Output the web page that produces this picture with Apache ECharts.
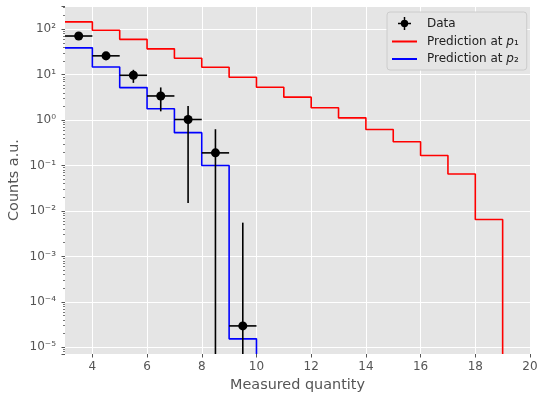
<!DOCTYPE html>
<html>
<head>
<meta charset="utf-8">
<script src="https://cdn.jsdelivr.net/npm/echarts@6/dist/echarts.min.js"></script>
<style>
html, body { margin: 0; padding: 0; background: #fff; }
#chart { width: 539px; height: 393px; }
</style>
</head>
<body>
<div id="chart"></div>
<script>
// bin left edges, histogram predictions (0 = empty bin, drops off the log axis)
const binEdges = [3, 4, 5, 6, 7, 8, 9, 10, 11, 12, 13, 14, 15, 16, 17, 18, 19];
const predP1 = [145, 95, 60, 37, 23, 14.6, 8.8, 5.3, 3.2, 1.87, 1.12, 0.62, 0.333, 0.166, 0.065, 0.0065, 0];
const predP2 = [39, 14.8, 5.2, 1.78, 0.53, 0.1, 1.53e-5, 0];

// measured data points with symmetric errors
const dataX = [3.5, 4.5, 5.5, 6.5, 7.5, 8.5, 9.5];
const dataY = [71, 26, 9.7, 3.4, 1.03, 0.19, 2.95e-5];
const dataErr = [8.4, 5.1, 3.1, 1.84, 1.015, 0.44, 0.0055];

const xTicks = [4, 6, 8, 10, 12, 14, 16, 18, 20];

const yMin = 7.1e-6, yMax = 325;
const FONT = 'DejaVu Sans';

const sup = { '0': '⁰', '1': '¹', '2': '²', '3': '³', '4': '⁴', '5': '⁵', '6': '⁶', '7': '⁷', '8': '⁸', '9': '⁹', '-': '⁻' };
function powLabel(v) {
  const e = Math.log10(v);
  if (Math.abs(e - Math.round(e)) > 1e-6) return '';
  return '10' + String(Math.round(e)).split('').map(c => sup[c]).join('');
}

function stepPoints(vals) {
  return vals.map((v, i) => [binEdges[i], v > 0 ? v : yMin]);
}

const errData = dataX.map((x, i) => [x, dataY[i], dataY[i] - dataErr[i], dataY[i] + dataErr[i]]);

const chart = echarts.init(document.getElementById('chart'));

const option = {
  animation: false,
  textStyle: { fontFamily: FONT },
  grid: {
    left: 65, right: 9, top: 6, bottom: 39,
    outerBoundsMode: 'none',
    show: true, backgroundColor: '#E5E5E5', borderWidth: 0
  },
  legend: {
    orient: 'vertical',
    left: 387, top: 12,
    padding: [5, 8, 5, 5],
    itemGap: 5.5,
    itemWidth: 25, itemHeight: 13,
    backgroundColor: '#E5E5E5',
    borderColor: '#CCCCCC', borderWidth: 1, borderRadius: 3,
    textStyle: {
      fontFamily: FONT, fontSize: 12, color: '#222', padding: [0, 0, 0, 5],
      rich: { i: { fontFamily: FONT, fontSize: 12, fontStyle: 'italic', color: '#222' } }
    },
    formatter: function (name) {
      if (name === 'Data') return name;
      return 'Prediction at {i|p}' + (name.endsWith('1') ? '₁' : '₂');
    },
    data: [
      { name: 'Data', icon: 'path://M0,6.2H14V7.8H0Z M6.2,0H7.8V14H6.2Z M11,7A4,4,0,1,1,3,7A4,4,0,1,1,11,7Z' },
      { name: 'Prediction at p1', icon: 'path://M0,0H25V2H0Z' },
      { name: 'Prediction at p2', icon: 'path://M0,0H25V2H0Z' }
    ]
  },
  xAxis: {
    type: 'value',
    min: 3, max: 20, interval: 1,
    name: 'Measured quantity',
    nameLocation: 'middle', nameGap: 22,
    nameTextStyle: { fontFamily: FONT, fontSize: 14.4, color: '#555' },
    axisLine: { show: false },
    axisTick: { show: true, inside: false, length: 3.5, customValues: xTicks, lineStyle: { color: '#555', width: 1 } },
    axisLabel: { fontFamily: FONT, fontSize: 12, color: '#555', margin: 7, customValues: xTicks },
    splitLine: { show: true, lineStyle: { color: '#fff', width: 1 } }
  },
  yAxis: {
    type: 'log', logBase: 10,
    min: yMin, max: yMax,
    name: 'Counts a.u.',
    nameLocation: 'middle', nameGap: 44, nameMoveOverlap: false,
    nameTextStyle: { fontFamily: FONT, fontSize: 14.4, color: '#555' },
    axisLine: { show: false },
    axisTick: { show: true, inside: false, length: 3.5, lineStyle: { color: '#555', width: 1 } },
    minorTick: { show: true, splitNumber: 9, length: 2, lineStyle: { color: '#777', width: 1 } },
    axisLabel: { fontFamily: FONT, fontSize: 12, color: '#555', margin: 9, formatter: powLabel, showMinLabel: false, showMaxLabel: false },
    splitLine: { show: true, lineStyle: { color: '#fff', width: 1 } }
  },
  series: [
    {
      name: 'Data', type: 'custom',
      itemStyle: { color: '#000' },
      data: errData,
      z: 3,
      renderItem: function (params, api) {
        const x = api.value(0), y = api.value(1), lo = api.value(2), hi = api.value(3);
        const pLo = api.coord([x, lo > 0 ? lo : yMin]);
        const pHi = api.coord([x, hi]);
        const pL = api.coord([x - 0.5, y]);
        const pR = api.coord([x + 0.5, y]);
        const st = { stroke: '#000', lineWidth: 1.6 };
        return {
          type: 'group',
          children: [
            { type: 'line', shape: { x1: pLo[0], y1: pLo[1], x2: pHi[0], y2: pHi[1] }, style: st },
            { type: 'line', shape: { x1: pL[0], y1: pL[1], x2: pR[0], y2: pR[1] }, style: st }
          ]
        };
      }
    },
    {
      name: 'Data', type: 'scatter',
      data: dataX.map((x, i) => [x, dataY[i]]),
      symbol: 'circle', symbolSize: 9,
      itemStyle: { color: '#000', opacity: 1 },
      z: 4
    },
    {
      name: 'Prediction at p1', type: 'line', step: 'end',
      data: stepPoints(predP1),
      showSymbol: false, symbol: 'none',
      lineStyle: { color: '#FF0000', width: 1.6 },
      itemStyle: { color: '#FF0000' },
      z: 2
    },
    {
      name: 'Prediction at p2', type: 'line', step: 'end',
      data: stepPoints(predP2),
      showSymbol: false, symbol: 'none',
      lineStyle: { color: '#0000FF', width: 1.6 },
      itemStyle: { color: '#0000FF' },
      z: 2
    }
  ]
};

chart.setOption(option);
</script>
</body>
</html>
